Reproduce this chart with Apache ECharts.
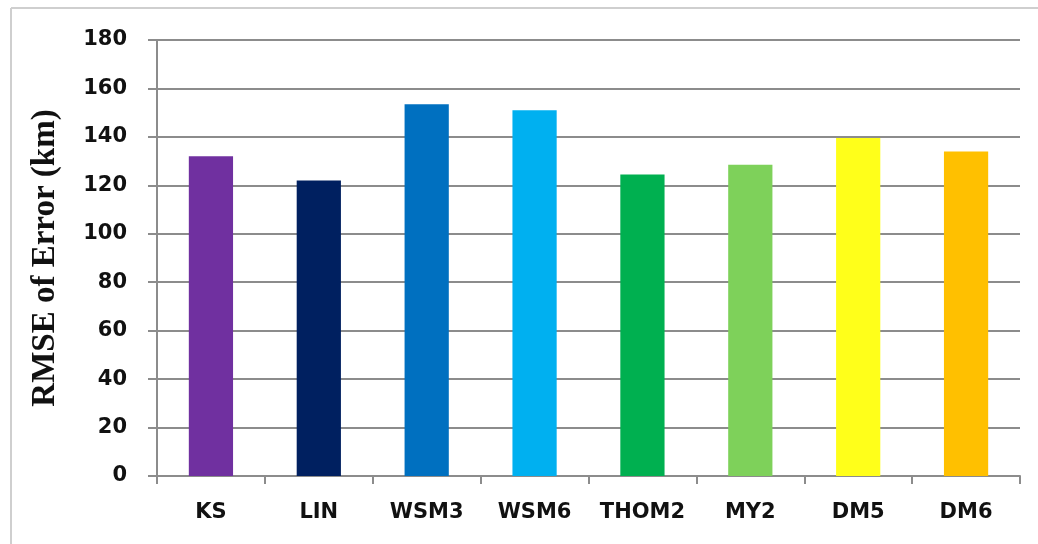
<!DOCTYPE html>
<html>
<head>
<meta charset="utf-8">
<script src="https://cdn.jsdelivr.net/npm/echarts@6/dist/echarts.min.js"></script>
<style>
  html, body { margin: 0; padding: 0; background: #fff; }
  #main { width: 1038px; height: 544px; }
</style>
</head>
<body>
<div id="main"></div>
<script>
// 方案名称
var schemes = ['KS', 'LIN', 'WSM3', 'WSM6', 'THOM2', 'MY2', 'DM5', 'DM6'];
// RMSE (km)
var rmse = [132, 122, 153.5, 151, 124.5, 128.5, 139.5, 134];
var barColors = ['#7030A0', '#002060', '#0070C0', '#00B0F0', '#00B050', '#7ED15A', '#FFFF1A', '#FFC000'];
var yTicks = [0, 20, 40, 60, 80, 100, 120, 140, 160, 180];

var myChart = echarts.init(document.getElementById('main'));

var barData = rmse.map(function (v, i) {
  return { value: v, itemStyle: { color: barColors[i] } };
});

myChart.setOption({
  backgroundColor: '#fff',
  animation: false,
  grid: { left: 157, right: 18, top: 40, bottom: 68 },
  // 外框（上、左）
  graphic: [
    { type: 'line', shape: { x1: 11, y1: 8, x2: 1038, y2: 8 }, style: { stroke: '#cfcfcf', lineWidth: 2 } },
    { type: 'line', shape: { x1: 11, y1: 8, x2: 11, y2: 544 }, style: { stroke: '#cfcfcf', lineWidth: 2 } }
  ],
  xAxis: {
    type: 'category',
    data: schemes,
    axisLine: { lineStyle: { color: '#8c8c8c', width: 2 } },
    axisTick: { show: true, interval: 0, length: 8, lineStyle: { color: '#8c8c8c', width: 2 } },
    axisLabel: {
      interval: 0,
      hideOverlap: false,
      margin: 26,
      color: '#111',
      fontFamily: 'DejaVu Sans',
      fontWeight: 'bold',
      fontSize: 21
    }
  },
  yAxis: {
    type: 'value',
    min: yTicks[0],
    max: yTicks[yTicks.length - 1],
    interval: 20,
    name: 'RMSE of Error (km)',
    nameLocation: 'middle',
    nameGap: 95,
    nameTextStyle: {
      fontFamily: 'Liberation Serif',
      fontWeight: 'bold',
      fontSize: 33,
      color: '#111'
    },
    axisLine: { show: true, lineStyle: { color: '#8c8c8c', width: 2 } },
    axisTick: { show: true, length: 9, lineStyle: { color: '#8c8c8c', width: 2 } },
    splitLine: { lineStyle: { color: '#8c8c8c', width: 2 } },
    axisLabel: {
      margin: 30,
      color: '#111',
      fontFamily: 'DejaVu Sans',
      fontWeight: 'bold',
      fontSize: 21
    }
  },
  series: [{
    type: 'bar',
    barWidth: '41%',
    data: barData
  }]
});
</script>
</body>
</html>
